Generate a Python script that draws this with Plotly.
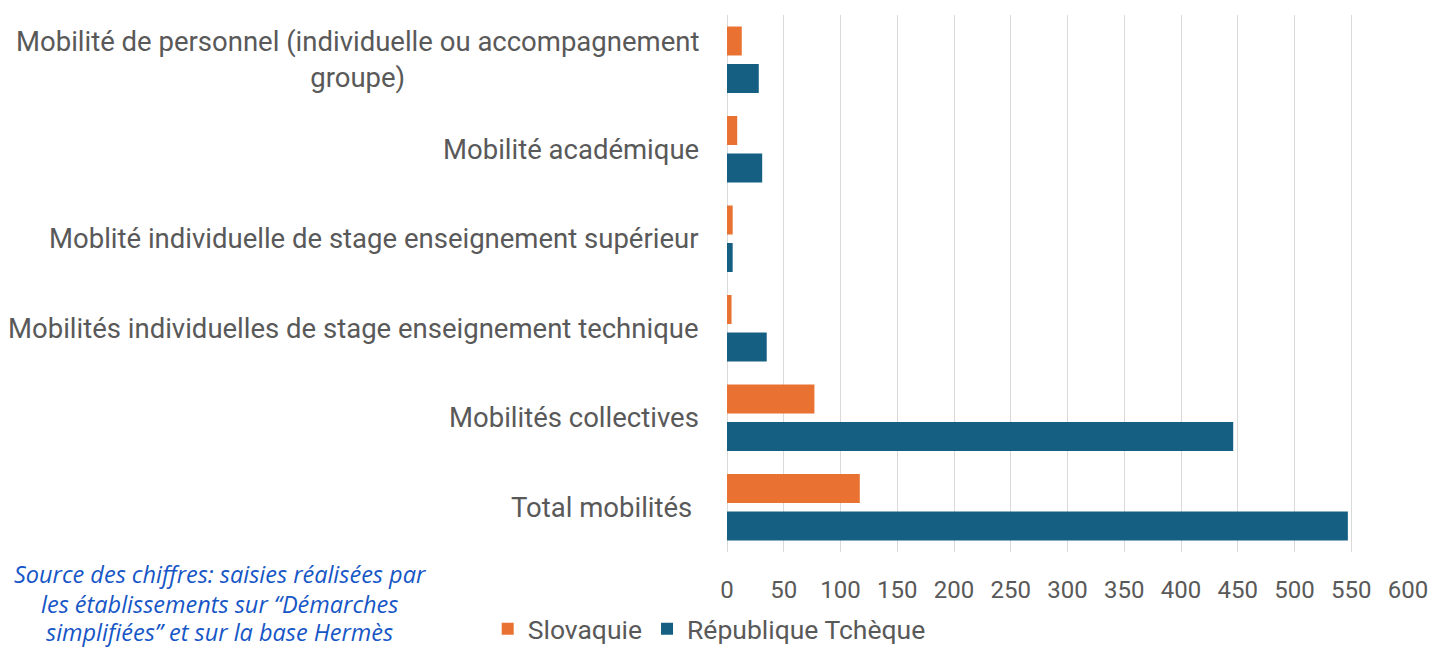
import plotly.graph_objects as go

categories = [
    "Mobilité de personnel (individuelle ou accompagnement<br>groupe)",
    "Mobilité académique",
    "Moblité individuelle de stage enseignement supérieur",
    "Mobilités individuelles de stage enseignement technique",
    "Mobilités collectives",
    "Total mobilités ",
]
slovaquie = [13, 9, 5, 4, 77, 117]
tcheque = [28, 31, 5, 35, 446, 547]
series_names = ["Slovaquie", "République Tchèque"]
x_ticks = [0, 50, 100, 150, 200, 250, 300, 350, 400, 450, 500, 550, 600]
source_lines = [
    "Source des chiffres: saisies réalisées par",
    "les établissements sur “Démarches",
    "simplifiées” et sur la base Hermès",
]

ORANGE = "#E97132"
BLUE = "#156082"
GRAY_TXT = "#595959"
GRID = "#d9d9d9"
FONT = "Roboto, Arial, sans-serif"

# page body has an 8px margin: keep the figure inside the window (no scrollbars)
W, H = 1421, 639
ML, MR, MT, MB = 719, 21, 7, 95
PW, PH = W - ML - MR, H - MT - MB

fig = go.Figure()
fig.add_trace(go.Bar(y=categories, x=slovaquie, name=series_names[0],
                     orientation="h", marker=dict(color=ORANGE, line=dict(width=0))))
fig.add_trace(go.Bar(y=categories, x=tcheque, name=series_names[1],
                     orientation="h", marker=dict(color=BLUE, line=dict(width=0))))

annotations = []
for c in categories:
    annotations.append(dict(
        x=0, xref="paper", xanchor="right", xshift=-26,
        y=c, yref="y", yanchor="middle",
        text=c, showarrow=False, align="center",
        font=dict(family=FONT, size=27.5, color=GRAY_TXT),
    ))

for i, ypix in enumerate([566, 596, 624]):
    annotations.append(dict(
        x=(211.5 - ML) / PW, xref="paper", xanchor="center",
        y=(H - MB - ypix) / PH, yref="paper", yanchor="middle",
        text=f"<i>{source_lines[i]}</i>", showarrow=False,
        font=dict(family="Open Sans, sans-serif", size=23.5, color="#1656C6"),
    ))

fig.update_layout(
    width=W, height=H,
    margin=dict(l=ML, r=MR, t=MT, b=MB, pad=0, autoexpand=False),
    paper_bgcolor="white", plot_bgcolor="white",
    barmode="group", bargap=0.162, bargroupgap=0.227,
    font=dict(family=FONT, size=24, color=GRAY_TXT),
    xaxis=dict(
        range=[0, 600], tickvals=x_ticks, ticktext=[str(v) for v in x_ticks],
        showgrid=True, gridcolor=GRID, gridwidth=1,
        zeroline=True, zerolinecolor=GRID, zerolinewidth=1,
        showline=False, ticks="",
        ticklabelstandoff=21,
        tickfont=dict(family=FONT, size=24, color=GRAY_TXT),
        automargin=False, fixedrange=True,
    ),
    yaxis=dict(
        categoryorder="array", categoryarray=categories,
        autorange="reversed", showticklabels=False, showgrid=False,
        zeroline=False, showline=False, ticks="", automargin=False,
    ),
    legend=dict(
        orientation="h", xref="container", yref="container",
        x=(500.7 - 21) / W, xanchor="left",
        y=1 - 621 / H, yanchor="middle",
        font=dict(family=FONT, size=26.5, color=GRAY_TXT),
        bgcolor="rgba(0,0,0,0)", itemclick=False,
    ),
    annotations=annotations,
    showlegend=True,
)

fig.write_html("out.html")
